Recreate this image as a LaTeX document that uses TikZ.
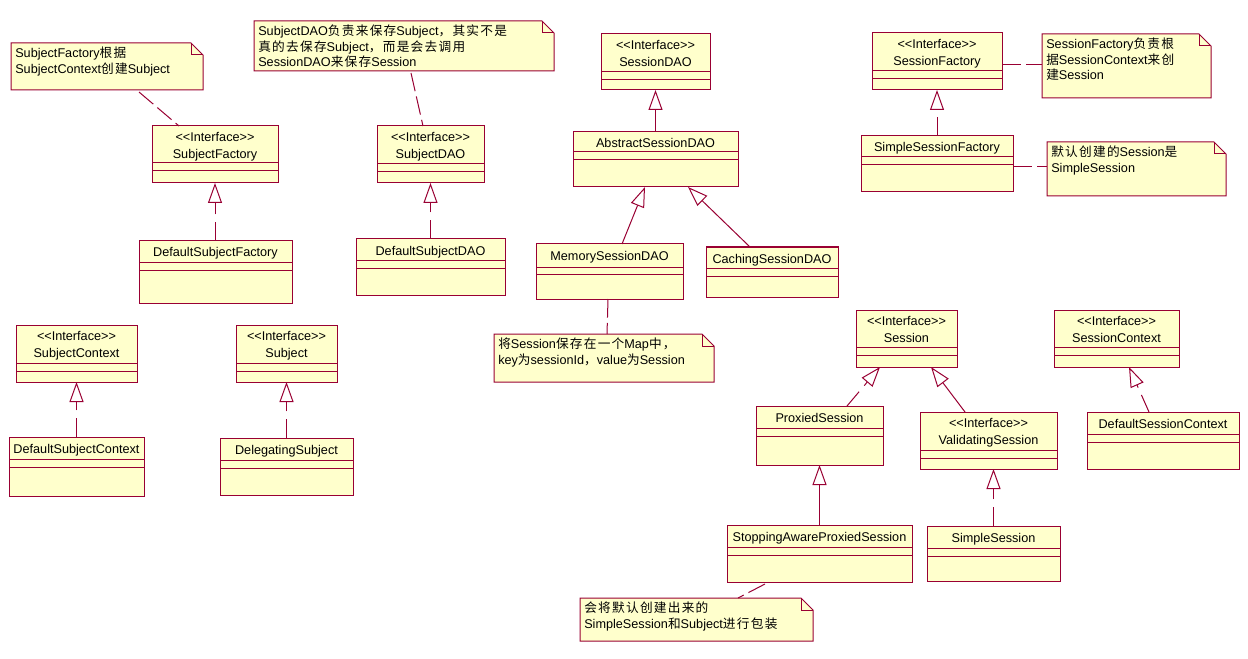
\documentclass[tikz,border=0pt]{standalone}
\usepackage{fontspec}
\setmainfont{Liberation Sans}
\newfontfamily\cjk[LetterSpace=10]{Noto Sans CJK SC}
\usetikzlibrary{arrows.meta,calc}
\definecolor{umlline}{RGB}{153,0,51}
\definecolor{umlfill}{RGB}{255,255,204}
\newcommand{\zh}[1]{{\cjk #1}}
\tikzset{
  clsbox/.style={draw=umlline, fill=umlfill, line width=0.75pt, inner sep=0pt, outer sep=0pt, rectangle},
  cmpline/.style={draw=umlline, line width=0.75pt},
  lbl/.style={inner sep=0pt, anchor=base, font=\fontsize{9.5}{11.6}\selectfont},
  notetxt/.style={inner sep=0pt, anchor=north west, align=left, font=\fontsize{9.5}{11.6}\selectfont},
  notebox/.style={draw=umlline, fill=umlfill, line width=0.75pt},
  gen/.style={draw=umlline, line width=0.75pt, -{Triangle[open, fill=white, length=15pt, width=10.5pt]}},
  real/.style={gen, dash pattern=on 14pt off 6pt},
  noteline/.style={draw=umlline, line width=0.75pt, dash pattern=on 14pt off 4pt},
}
% class: name x1 y1 x2 y2 line1 line2 text
\newcommand{\umlcls}[8]{%
  \node[clsbox, anchor=north west, minimum width={(#4-#2)*0.75pt}, minimum height={(#5-#3)*0.75pt}] (#1) at (#2,#3) {};
  \draw[cmpline] (#2,#6) -- (#4,#6) (#2,#7) -- (#4,#7);
  \node[lbl] (#1-n) at ({(#2+#4)/2},{#3+16}) {#8};
}
\newcommand{\umlintf}[8]{%
  \node[clsbox, anchor=north west, minimum width={(#4-#2)*0.75pt}, minimum height={(#5-#3)*0.75pt}] (#1) at (#2,#3) {};
  \draw[cmpline] (#2,#6) -- (#4,#6) (#2,#7) -- (#4,#7);
  \node[lbl] (#1-s) at ({(#2+#4)/2},{#3+15.5}) {{<}{<}Interface{>}{>}};
  \node[lbl] (#1-n) at ({(#2+#4)/2},{#3+32.5}) {#8};
}
% note: name x1 y1 x2 y2 text
\newcommand{\umlnote}[6]{%
  \node[inner sep=0pt, outer sep=0pt, anchor=north west, minimum width={(#4-#2)*0.75pt}, minimum height={(#5-#3)*0.75pt}] (#1) at (#2,#3) {};
  \draw[notebox] (#1.north west) -- ($(#1.north east)+(-12,0)$) -- ($(#1.north east)+(0,12)$) -- (#1.south east) -- (#1.south west) -- cycle;
  \draw[cmpline] ($(#1.north east)+(-12,0)$) -- ($(#1.north east)+(-12,12)$) -- ($(#1.north east)+(0,12)$);
  \node[notetxt] (#1-t) at ({#2+4},{#3+4}) {#6};
}
\begin{document}
\begin{tikzpicture}[x=0.75pt, y=-0.75pt]
\fill[white] (0,0) rectangle (1248,659);
\useasboundingbox (0,0) rectangle (1248,659);

% Subject side
\umlnote{n1}{11}{43}{203}{90}{SubjectFactory\zh{根据}\\SubjectContext\zh{创建}Subject}
\umlintf{sf}{152}{126}{278}{183}{163}{171}{SubjectFactory}
\umlcls{dsf}{139}{241}{292}{303}{262}{270}{DefaultSubjectFactory}
\umlnote{n2}{254}{21}{554}{71}{SubjectDAO\zh{负责来保存}Subject\zh{，其实不是}\\\zh{真的去保存}Subject\zh{，而是会去调用}\\SessionDAO\zh{来保存}Session}
\umlintf{sdao}{377}{126}{484}{183}{164}{172}{SubjectDAO}
\umlcls{dsdao}{356}{239}{505}{295}{260}{268}{DefaultSubjectDAO}
\umlintf{sctx}{16}{325}{137}{382}{363}{371}{SubjectContext}
\umlcls{dsctx}{9}{437}{144}{496}{459}{467}{DefaultSubjectContext}
\umlintf{subj}{236}{325}{337}{382}{363}{371}{Subject}
\umlcls{dsubj}{220}{438}{353}{495}{460}{468}{DelegatingSubject}

% SessionDAO side
\umlintf{sesdao}{601}{34}{710}{90}{72}{80}{SessionDAO}
\umlcls{abs}{573}{132}{738}{187}{152}{160}{AbstractSessionDAO}
\umlcls{mem}{536}{244}{683}{299}{267}{274}{MemorySessionDAO}
\umlcls{cach}{706}{247}{838}{297}{268}{276}{CachingSessionDAO}
\umlnote{mapn}{494}{334}{714}{382}{\zh{将}Session\zh{保存在一个}Map\zh{中，}\\key\zh{为}sessionId\zh{，}value\zh{为}Session}

% SessionFactory side
\umlintf{sfac}{872}{33}{1002}{90}{71}{79}{SessionFactory}
\umlnote{sfn}{1042}{34}{1211}{98}{SessionFactory\zh{负责根}\\\zh{据}SessionContext\zh{来创}\\\zh{建}Session}
\umlcls{ssf}{861}{136}{1013}{192}{157}{165}{SimpleSessionFactory}
\umlnote{defn}{1047}{142}{1226}{196}{\zh{默认创建的}Session\zh{是}\\SimpleSession}

% Session side
\umlintf{ses}{856}{310}{957}{367}{347}{355}{Session}
\umlintf{sesctx}{1054}{310}{1179}{367}{347}{355}{SessionContext}
\umlcls{prox}{756}{406}{883}{465}{428}{436}{ProxiedSession}
\umlintf{vals}{920}{412}{1057}{469}{450}{458}{ValidatingSession}
\umlcls{dsesctx}{1087}{412}{1239}{469}{434}{442}{DefaultSessionContext}
\umlcls{sap}{727}{525}{912}{582}{547}{555}{StoppingAwareProxiedSession}
\umlcls{sims}{927}{526}{1060}{581}{548}{556}{SimpleSession}
\umlnote{botn}{580}{598}{813}{641}{\zh{会将默认创建出来的}\\SimpleSession\zh{和}Subject\zh{进行包装}}

% generalizations / realizations
\draw[real] (dsf.north -| sf.south) -- (sf.south);
\draw[real] (dsdao.north -| sdao.south) -- (sdao.south);
\draw[real] (dsctx.north -| sctx.south) -- (sctx.south);
\draw[real] (dsubj.north -| subj.south) -- (subj.south);
\draw[gen] (abs.north -| sesdao.south) -- (sesdao.south);
\draw[gen] ($(mem.north)+(12.5,0)$) -- ($(abs.south)+(-10.5,0)$);
\draw[gen] ($(cach.north)+(-22,0)$) -- ($(abs.south)+(32.5,0)$);
\draw[real] (ssf.north -| sfac.south) -- (sfac.south);
\draw[real] ($(prox.north)+(27.5,0)$) -- ($(ses.south)+(-26.5,0)$);
\draw[gen] ($(vals.north)+(-23.5,0)$) -- ($(ses.south)+(24.5,0)$);
\draw[gen] (sap.north -| prox.south) -- (prox.south);
\draw[real] (sims.north) -- (sims.north |- vals.south);
\draw[real] ($(dsesctx.north)+(-14,0)$) -- ($(sesctx.south)+(12.5,0)$);

% note anchors
\draw[noteline] ($(n1.south west)+(128,2)$) -- ($(sf.north)+(-36,0)$);
\draw[noteline] ($(n2.south west)+(157,2)$) -- ($(sdao.north)+(-7.5,0)$);
\draw[noteline] ($(mem.south)+(-1.5,0)$) -- ($(mapn.north west)+(113,0)$);
\draw[noteline] ($(sfac.east)+(0,3.5)$) coordinate (sfa) -- (sfa -| sfn.west);
\draw[noteline] ($(ssf.east)+(0,3)$) coordinate (ssa) -- (ssa -| defn.west);
\draw[noteline] ($(sap.south)+(-54.5,2)$) -- ($(botn.north west)+(158,0)$);
\end{tikzpicture}
\end{document}
